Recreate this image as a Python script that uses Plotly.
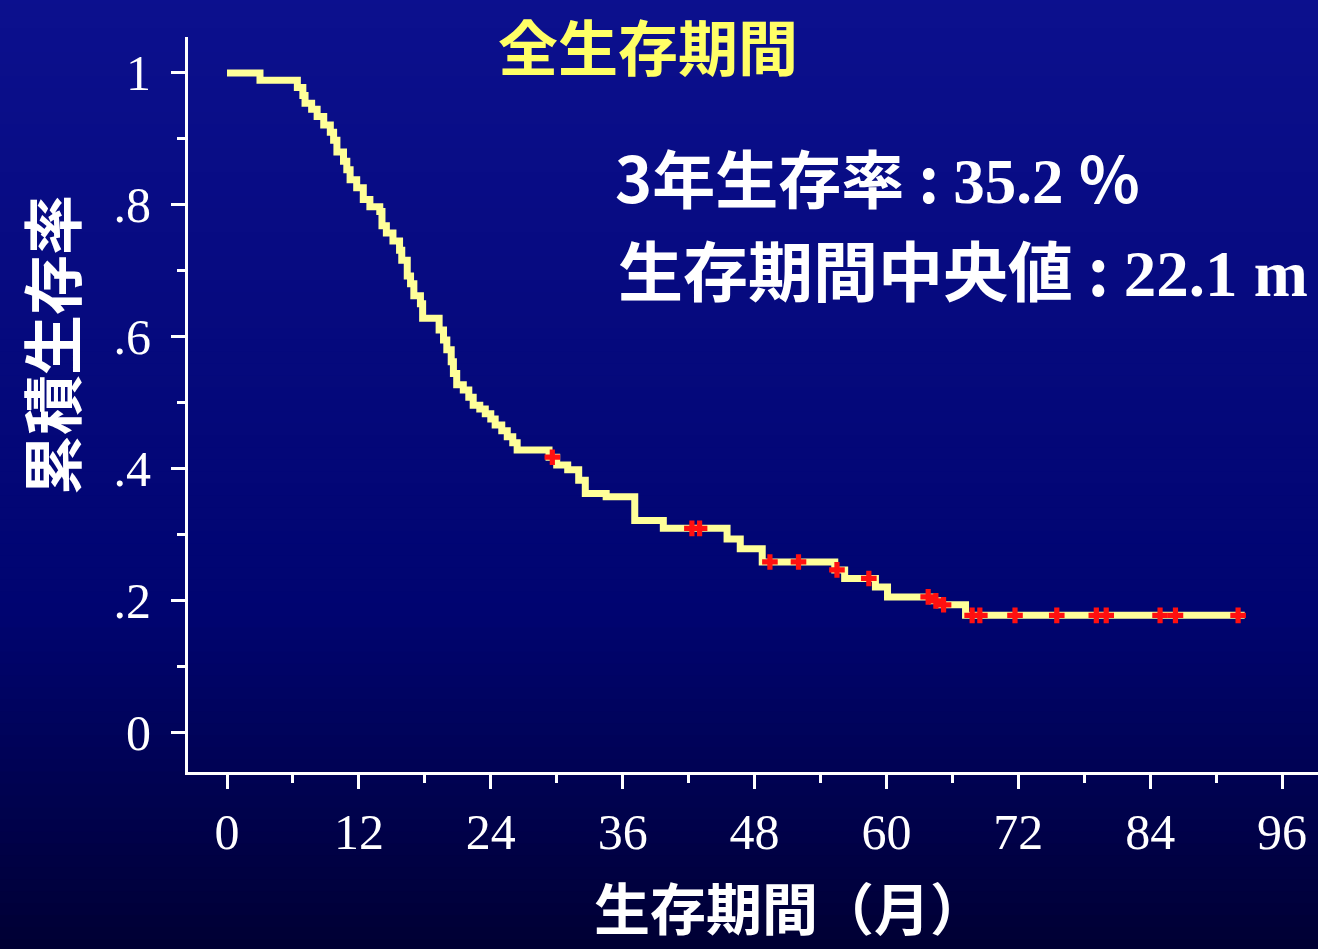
import numpy as np
import plotly.graph_objects as go

# Kaplan-Meier step data (time in months, survival after drop)
event_times = [0, 3.0, 6.4, 6.9, 7.1, 7.7, 8.2, 8.8, 9.4, 9.7, 10.0, 10.6, 10.9, 11.2, 11.8,
               12.4, 13.0, 13.9, 14.1, 14.5, 15.1, 15.7, 15.9, 16.4, 16.7, 17.0, 17.6, 17.8,
               19.3, 19.7, 20.0, 20.4, 20.6, 20.9, 21.5, 22.0, 22.4, 23.0, 23.5, 24.0, 24.4,
               25.0, 25.5, 26.0, 26.4, 29.3, 30.0, 31.0, 32.0, 32.6, 34.5, 37.1, 39.7, 45.5,
               46.7, 48.7, 55.3, 56.2, 59.0, 60.1, 64.2, 64.8, 67.2]
survival = [1.0, 0.989, 0.978, 0.966, 0.954, 0.945, 0.934, 0.921, 0.910, 0.898, 0.880, 0.866,
            0.853, 0.838, 0.826, 0.808, 0.797, 0.790, 0.768, 0.757, 0.745, 0.731, 0.716, 0.692,
            0.680, 0.662, 0.650, 0.628, 0.610, 0.595, 0.580, 0.562, 0.544, 0.527, 0.519, 0.508,
            0.496, 0.490, 0.483, 0.475, 0.466, 0.457, 0.448, 0.439, 0.428, 0.417, 0.405, 0.398,
            0.382, 0.362, 0.357, 0.321, 0.309, 0.293, 0.278, 0.258, 0.246, 0.233, 0.220, 0.205,
            0.199, 0.193, 0.177]
last_followup = 92.6
censor_times = [29.6, 42.3, 43.0, 49.4, 52.0, 55.5, 58.4, 63.8, 64.5, 65.2, 67.8, 68.5,
                71.7, 75.5, 79.1, 80.0, 84.9, 86.3, 92.0]

x_ticks = [0, 12, 24, 36, 48, 60, 72, 84, 96]
y_ticks = [0, 0.2, 0.4, 0.6, 0.8, 1.0]
y_ticklabels = ["0", ".2", ".4", ".6", ".8", "1"]

title_text = "全生存期間"
x_title = "生存期間（月）"
y_title = "累積生存率"

# step line
xs = list(event_times) + [last_followup]
ys = list(survival) + [survival[-1]]

et = np.array(event_times)
sv = np.array(survival)
cy = [sv[np.searchsorted(et, t, side="right") - 1] for t in censor_times]

fig = go.Figure()
fig.add_trace(go.Scatter(x=xs, y=ys, mode="lines", line=dict(color="#FFFF99", width=7, shape="hv"),
                         hoverinfo="skip", showlegend=False))
fig.add_trace(go.Scatter(x=censor_times, y=cy, mode="markers",
                         marker=dict(symbol="cross", size=13, color="#FF1010", line=dict(width=0)),
                         showlegend=False))

# background gradient bands
shapes = []
n = 80
top = np.array([12, 16, 142])
mid = np.array([0, 4, 112])
bot = np.array([0, 0, 52])
y0p, y1p = 1.06, -0.245
for i in range(n):
    f = i / (n - 1)
    if f < 0.65:
        c = top + (mid - top) * (f / 0.65)
    else:
        c = mid + (bot - mid) * ((f - 0.65) / 0.35)
    ya = y0p + (y1p - y0p) * i / n
    yb = y0p + (y1p - y0p) * (i + 1) / n
    shapes.append(dict(type="rect", xref="paper", yref="paper", x0=-0.2, x1=1.05,
                       y0=yb - 0.001, y1=ya + 0.001, layer="below", line=dict(width=0),
                       fillcolor="rgb(%d,%d,%d)" % tuple(int(round(v)) for v in c)))

cjk = "Noto Sans CJK JP"
serif = "Liberation Serif"
W, H = 1318, 949
L, R, T, B = 188, 0, 37, 177
pw, ph = W - L - R, H - T - B


def px(x):
    return (x - L) / pw


def py(y):
    return (H - B - y) / ph


ann = [
    dict(text="<b>" + title_text + "</b>", x=px(648), y=py(45), font=dict(family=cjk, size=60, color="#FFFF66")),
    dict(text="<b>3年生存率 : <span style=\"font-family:'Liberation Serif'\">35.2</span> ％</b>",
         x=px(613), y=py(175), xanchor="left", font=dict(family=cjk, size=63, color="white")),
    dict(text="<b>生存期間中央値 : <span style=\"font-family:'Liberation Serif'\">22.1 m</span></b>",
         x=px(616), y=py(268), xanchor="left", font=dict(family=cjk, size=65, color="white")),
    dict(text="<b>" + x_title + "</b>", x=px(790), y=py(905), font=dict(family=cjk, size=56, color="white")),
    dict(text="<b>" + y_title + "</b>", x=px(50), y=py(345), textangle=-90,
         font=dict(family=cjk, size=60, color="white")),
]
for a in ann:
    a.setdefault("xanchor", "center")
    a.update(xref="paper", yref="paper", yanchor="middle", showarrow=False)

fig.update_layout(
    width=W, height=H, autosize=False,
    margin=dict(l=L, r=R, t=T, b=B, pad=0),
    paper_bgcolor="#00006E", plot_bgcolor="rgba(0,0,0,0)",
    shapes=shapes, annotations=ann,
    xaxis=dict(range=[-3.55, 99.27], tickvals=x_ticks, ticks="outside", ticklen=14, tickwidth=3,
               tickcolor="white", showline=True, linecolor="white", linewidth=3, showgrid=False,
               zeroline=False, tickfont=dict(family=serif, size=50, color="white"),
               ticklabelstandoff=0,
               minor=dict(dtick=6, tick0=0, ticks="outside", ticklen=8, tickwidth=3, tickcolor="white",
                          showgrid=False)),
    yaxis=dict(range=[-0.0607, 1.0546], tickvals=y_ticks, ticktext=y_ticklabels, ticks="outside",
               ticklen=14, tickwidth=3, tickcolor="white", showline=True, linecolor="white",
               linewidth=3, showgrid=False, zeroline=False,
               tickfont=dict(family=serif, size=50, color="white"), ticklabelstandoff=10,
               minor=dict(dtick=0.1, tick0=0, ticks="outside", ticklen=8, tickwidth=3,
                          tickcolor="white", showgrid=False)),
)

fig.write_html("out.html", config={"displayModeBar": False},
               post_script="document.body.style.margin='0';document.body.style.overflow='hidden';")
